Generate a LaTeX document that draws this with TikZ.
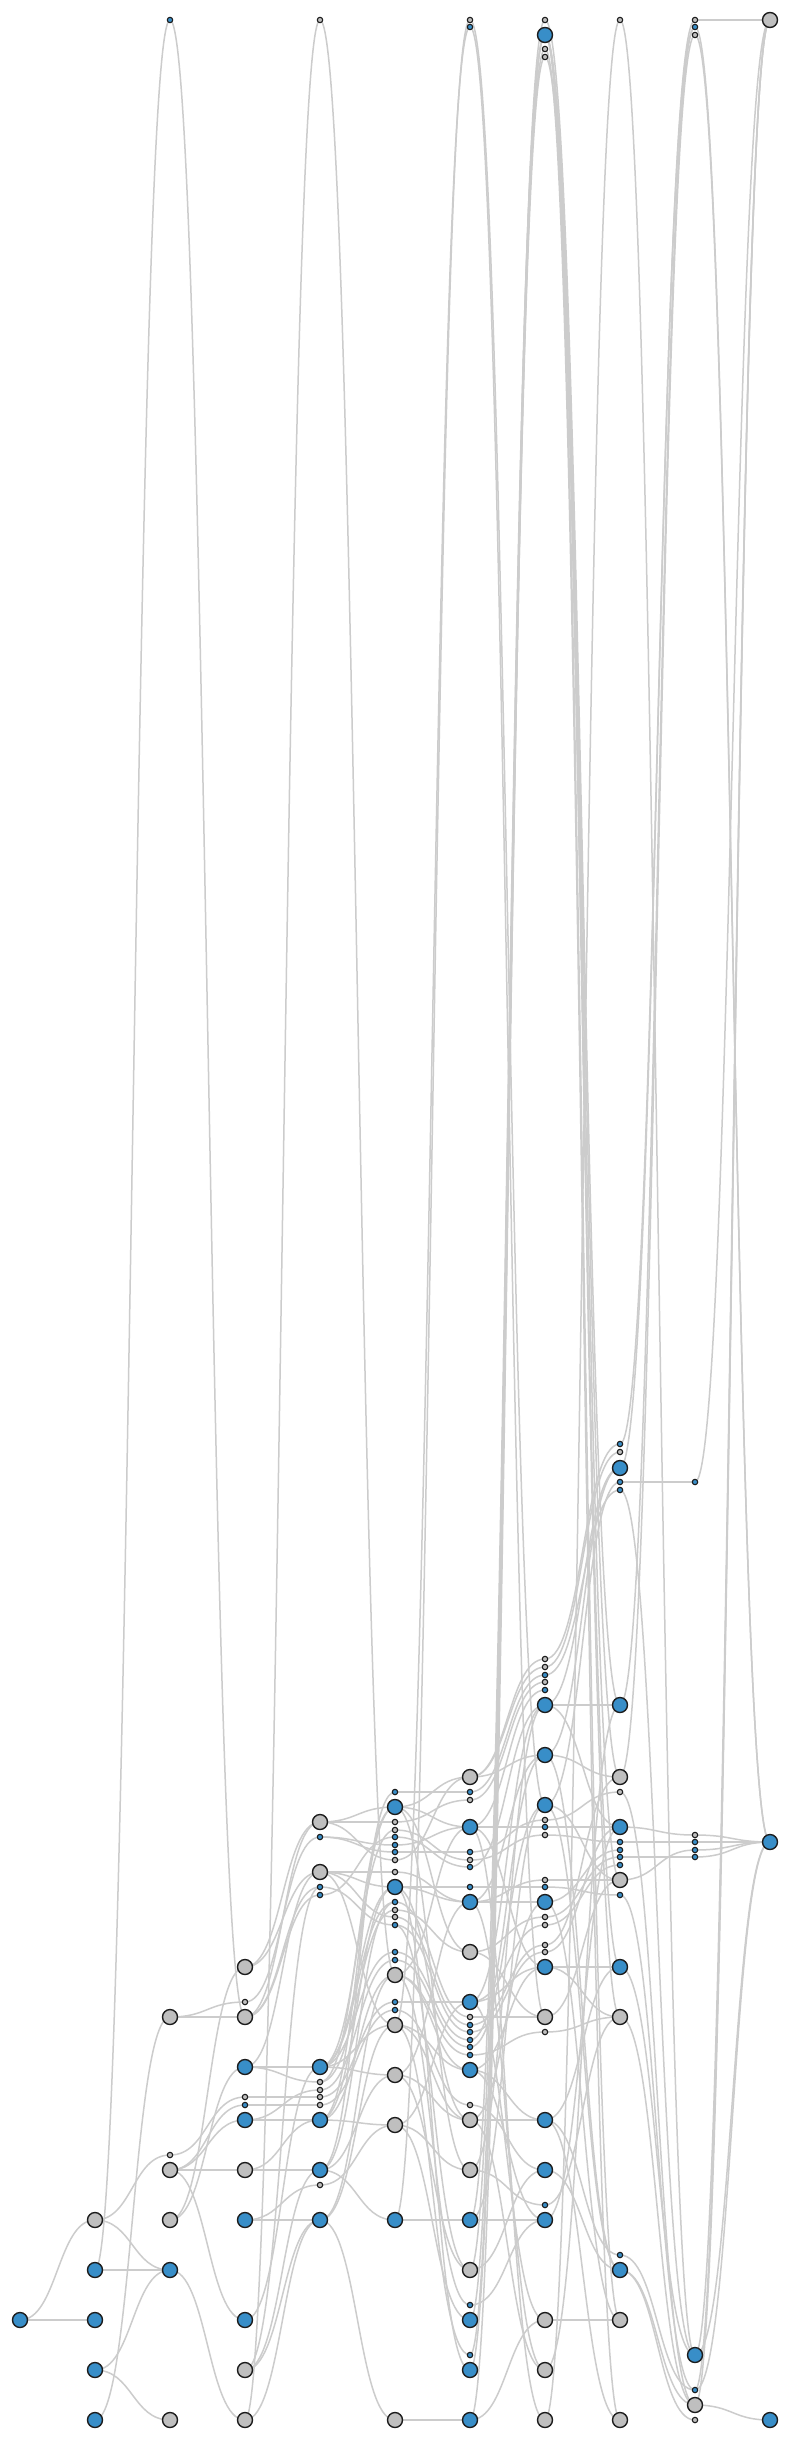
\documentclass[tikz,border=0pt]{standalone}
\usetikzlibrary{calc}
\pgfdeclarelayer{background}
\pgfsetlayers{background,main}
\definecolor{nblue}{RGB}{56,142,200}
\definecolor{ngray}{RGB}{191,191,191}
\definecolor{ink}{RGB}{28,28,28}
\definecolor{ecol}{RGB}{204,204,204}
\tikzset{
  nodebase/.style={circle,draw=ink,inner sep=0pt,outer sep=0pt},
  bl/.style={nodebase,fill=nblue,line width=1.4pt,minimum size=15pt},
  gl/.style={nodebase,fill=ngray,line width=1.4pt,minimum size=15pt},
  bs/.style={nodebase,fill=nblue,line width=1.1pt,minimum size=5.4pt},
  gs/.style={nodebase,fill=ngray,line width=1.1pt,minimum size=5.4pt},
  edge/.style={draw=ecol,line width=1.5pt}
}
\newcommand\grnode[3]{\node[#3] (c#1y#2) at ({20+75*#1},#2) {};}
\newcommand\gredge[2]{\draw[edge] let \p1=(#1.center), \p2=(#2.center) in (\p1) .. controls ({0.5*\x1+0.5*\x2},\y1) and ({0.5*\x1+0.5*\x2},\y2) .. (\p2);}
\begin{document}
\begin{tikzpicture}[x=1pt,y=-1pt]
\useasboundingbox (0,0) rectangle (790,2440);
% column 0
\grnode{0}{2320}{bl}
% column 1
\grnode{1}{2220}{gl}\grnode{1}{2270}{bl}\grnode{1}{2320}{bl}\grnode{1}{2370}{bl}\grnode{1}{2420}{bl}
% column 2
\grnode{2}{20}{bs}\grnode{2}{2017}{gl}\grnode{2}{2155}{gs}\grnode{2}{2170}{gl}\grnode{2}{2220}{gl}\grnode{2}{2270}{bl}\grnode{2}{2420}{gl}
% column 3
\grnode{3}{1967}{gl}\grnode{3}{2002}{gs}\grnode{3}{2017}{gl}\grnode{3}{2067}{bl}\grnode{3}{2097}{gs}\grnode{3}{2105}{bs}
\grnode{3}{2120}{bl}\grnode{3}{2170}{gl}\grnode{3}{2220}{bl}\grnode{3}{2320}{bl}\grnode{3}{2370}{gl}\grnode{3}{2420}{gl}
% column 4
\grnode{4}{20}{gs}\grnode{4}{1822}{gl}\grnode{4}{1837}{bs}\grnode{4}{1872}{gl}\grnode{4}{1887}{bs}\grnode{4}{1895}{bs}
\grnode{4}{2067}{bl}\grnode{4}{2082}{gs}\grnode{4}{2090}{gs}\grnode{4}{2097}{gs}\grnode{4}{2105}{gs}
\grnode{4}{2120}{bl}\grnode{4}{2170}{bl}\grnode{4}{2185}{gs}\grnode{4}{2220}{bl}
% column 5
\grnode{5}{1792}{bs}\grnode{5}{1807}{bl}\grnode{5}{1822}{gs}\grnode{5}{1830}{gs}\grnode{5}{1837}{bs}\grnode{5}{1845}{bs}
\grnode{5}{1852}{bs}\grnode{5}{1860}{gs}\grnode{5}{1872}{gs}\grnode{5}{1887}{bl}\grnode{5}{1902}{bs}\grnode{5}{1910}{gs}
\grnode{5}{1917}{gs}\grnode{5}{1925}{bs}\grnode{5}{1952}{bs}\grnode{5}{1960}{bs}\grnode{5}{1975}{gl}\grnode{5}{2002}{bs}
\grnode{5}{2010}{bs}\grnode{5}{2025}{gl}\grnode{5}{2075}{gl}\grnode{5}{2125}{gl}\grnode{5}{2220}{bl}\grnode{5}{2420}{gl}
% column 6
\grnode{6}{20}{gs}\grnode{6}{27}{bs}\grnode{6}{1777}{gl}\grnode{6}{1792}{bs}\grnode{6}{1800}{gs}\grnode{6}{1827}{bl}
\grnode{6}{1852}{bs}\grnode{6}{1860}{gs}\grnode{6}{1867}{bs}\grnode{6}{1887}{bs}\grnode{6}{1902}{bl}\grnode{6}{1952}{gl}
\grnode{6}{2002}{bl}\grnode{6}{2017}{gs}\grnode{6}{2025}{bs}\grnode{6}{2032}{bs}\grnode{6}{2040}{bs}\grnode{6}{2047}{bs}
\grnode{6}{2055}{bs}\grnode{6}{2070}{bl}\grnode{6}{2105}{gs}\grnode{6}{2120}{gl}\grnode{6}{2170}{gl}\grnode{6}{2220}{bl}
\grnode{6}{2270}{gl}\grnode{6}{2305}{bs}\grnode{6}{2320}{bl}\grnode{6}{2355}{bs}\grnode{6}{2370}{bl}\grnode{6}{2420}{bl}
% column 7
\grnode{7}{20}{gs}\grnode{7}{35}{bl}\grnode{7}{49}{gs}\grnode{7}{57}{gs}
\grnode{7}{1659}{gs}\grnode{7}{1667}{gs}\grnode{7}{1675}{bs}\grnode{7}{1682}{gs}\grnode{7}{1690}{bs}\grnode{7}{1705}{bl}
\grnode{7}{1755}{bl}\grnode{7}{1805}{bl}\grnode{7}{1820}{gs}\grnode{7}{1827}{bs}\grnode{7}{1835}{gs}\grnode{7}{1880}{gs}
\grnode{7}{1887}{bs}\grnode{7}{1902}{bl}\grnode{7}{1917}{gs}\grnode{7}{1925}{gs}\grnode{7}{1945}{gs}\grnode{7}{1952}{gs}
\grnode{7}{1967}{bl}\grnode{7}{2017}{gl}\grnode{7}{2032}{gs}\grnode{7}{2120}{bl}\grnode{7}{2170}{bl}\grnode{7}{2205}{bs}
\grnode{7}{2220}{bl}\grnode{7}{2320}{gl}\grnode{7}{2370}{gl}\grnode{7}{2420}{gl}
% column 8
\grnode{8}{20}{gs}\grnode{8}{1444}{bs}\grnode{8}{1452}{gs}\grnode{8}{1468}{bl}\grnode{8}{1482}{bs}\grnode{8}{1490}{bs}
\grnode{8}{1705}{bl}\grnode{8}{1777}{gl}\grnode{8}{1792}{gs}\grnode{8}{1827}{bl}\grnode{8}{1842}{bs}\grnode{8}{1850}{bs}
\grnode{8}{1857}{bs}\grnode{8}{1865}{bs}\grnode{8}{1880}{gl}\grnode{8}{1895}{bs}\grnode{8}{1967}{bl}\grnode{8}{2017}{gl}
\grnode{8}{2255}{bs}\grnode{8}{2270}{bl}\grnode{8}{2320}{gl}\grnode{8}{2420}{gl}
% column 9
\grnode{9}{20}{gs}\grnode{9}{27}{bs}\grnode{9}{35}{gs}\grnode{9}{1482}{bs}\grnode{9}{1835}{gs}\grnode{9}{1842}{bs}
\grnode{9}{1850}{bs}\grnode{9}{1857}{bs}\grnode{9}{2355}{bl}\grnode{9}{2390}{bs}\grnode{9}{2405}{gl}\grnode{9}{2420}{gs}
% column 10
\grnode{10}{20}{gl}\grnode{10}{1842}{bl}\grnode{10}{2420}{bl}

\begin{pgfonlayer}{background}
\fill[white] (0,0) rectangle (790,2440);
% c0-c1
\gredge{c0y2320}{c1y2220}\gredge{c0y2320}{c1y2320}
% c1-c2
\gredge{c1y2220}{c2y2155}\gredge{c1y2220}{c2y2270}\gredge{c1y2270}{c2y20}\gredge{c1y2270}{c2y2270}
\gredge{c1y2370}{c2y2270}\gredge{c1y2370}{c2y2420}\gredge{c1y2420}{c2y2017}
% c2-c3
\gredge{c2y20}{c3y2017}\gredge{c2y2017}{c3y2017}\gredge{c2y2017}{c3y2002}\gredge{c2y2155}{c3y2097}
\gredge{c2y2170}{c3y2170}\gredge{c2y2170}{c3y2105}\gredge{c2y2170}{c3y2120}\gredge{c2y2170}{c3y2320}
\gredge{c2y2220}{c3y1967}\gredge{c2y2220}{c3y2067}\gredge{c2y2270}{c3y2420}
% c3-c4
\gredge{c3y1967}{c4y1822}\gredge{c3y1967}{c4y1872}\gredge{c3y2002}{c4y1837}\gredge{c3y2017}{c4y1822}
\gredge{c3y2017}{c4y1887}\gredge{c3y2017}{c4y1895}\gredge{c3y2067}{c4y2067}\gredge{c3y2067}{c4y2082}
\gredge{c3y2067}{c4y1872}\gredge{c3y2097}{c4y2097}\gredge{c3y2105}{c4y2105}\gredge{c3y2120}{c4y2120}
\gredge{c3y2120}{c4y2090}\gredge{c3y2170}{c4y2170}\gredge{c3y2170}{c4y2120}\gredge{c3y2220}{c4y2185}
\gredge{c3y2220}{c4y2220}\gredge{c3y2320}{c4y2067}\gredge{c3y2370}{c4y2170}\gredge{c3y2370}{c4y2220}
\gredge{c3y2370}{c4y1887}\gredge{c3y2420}{c4y20}\gredge{c3y2420}{c4y2220}
% c4-c5
\gredge{c4y20}{c5y1975}\gredge{c4y1822}{c5y1822}\gredge{c4y1822}{c5y1807}\gredge{c4y1822}{c5y1860}
\gredge{c4y1837}{c5y1852}\gredge{c4y1837}{c5y1845}\gredge{c4y1872}{c5y1872}\gredge{c4y1872}{c5y1887}
\gredge{c4y1872}{c5y1917}\gredge{c4y1887}{c5y1925}\gredge{c4y1895}{c5y1837}\gredge{c4y2067}{c5y1887}
\gredge{c4y2067}{c5y1902}\gredge{c4y2067}{c5y2025}\gredge{c4y2067}{c5y1952}\gredge{c4y2067}{c5y1830}
\gredge{c4y2082}{c5y1910}\gredge{c4y2090}{c5y1960}\gredge{c4y2097}{c5y2002}\gredge{c4y2105}{c5y2010}
\gredge{c4y2120}{c5y2125}\gredge{c4y2120}{c5y1975}\gredge{c4y2120}{c5y1807}\gredge{c4y2170}{c5y2075}
\gredge{c4y2170}{c5y1792}\gredge{c4y2170}{c5y2220}\gredge{c4y2185}{c5y2125}\gredge{c4y2220}{c5y2025}
\gredge{c4y2220}{c5y2420}
\gredge{c4y2120}{c5y1887}\gredge{c4y2170}{c5y1902}\gredge{c4y2067}{c5y2075}\gredge{c4y2220}{c5y1975}
\gredge{c4y2082}{c5y1807}\gredge{c4y1872}{c5y2025}
% c5-c6
\gredge{c5y1792}{c6y1792}\gredge{c5y1807}{c6y1777}\gredge{c5y1807}{c6y1827}\gredge{c5y1822}{c6y1800}
\gredge{c5y1830}{c6y1860}\gredge{c5y1837}{c6y1867}\gredge{c5y1845}{c6y1827}\gredge{c5y1852}{c6y1852}
\gredge{c5y1860}{c6y1777}\gredge{c5y1872}{c6y1902}\gredge{c5y1887}{c6y1887}\gredge{c5y1887}{c6y1902}
\gredge{c5y1887}{c6y2370}\gredge{c5y1902}{c6y2017}\gredge{c5y1910}{c6y1952}\gredge{c5y1917}{c6y2025}
\gredge{c5y1925}{c6y2032}\gredge{c5y1925}{c6y2270}\gredge{c5y1952}{c6y2040}\gredge{c5y1960}{c6y2047}
\gredge{c5y1975}{c6y2055}\gredge{c5y1975}{c6y2070}\gredge{c5y1975}{c6y2305}\gredge{c5y2002}{c6y2002}
\gredge{c5y2010}{c6y2105}\gredge{c5y2025}{c6y2070}\gredge{c5y2025}{c6y2120}\gredge{c5y2025}{c6y2355}
\gredge{c5y2025}{c6y27}\gredge{c5y2075}{c6y2120}\gredge{c5y2075}{c6y2270}\gredge{c5y2125}{c6y2170}
\gredge{c5y2125}{c6y2320}\gredge{c5y2220}{c6y2220}\gredge{c5y2220}{c6y20}\gredge{c5y2420}{c6y2420}
\gredge{c5y1807}{c6y2170}\gredge{c5y1887}{c6y2120}\gredge{c5y1975}{c6y1827}\gredge{c5y2075}{c6y1902}
\gredge{c5y2125}{c6y2002}\gredge{c5y1807}{c6y1952}
% c6-c7
\gredge{c6y20}{c7y1805}\gredge{c6y27}{c7y2017}\gredge{c6y1777}{c7y1659}\gredge{c6y1777}{c7y1667}
\gredge{c6y1777}{c7y1755}\gredge{c6y1792}{c7y1675}\gredge{c6y1800}{c7y1682}\gredge{c6y1827}{c7y1827}
\gredge{c6y1827}{c7y1690}\gredge{c6y1827}{c7y2420}\gredge{c6y1852}{c7y1820}\gredge{c6y1860}{c7y1835}
\gredge{c6y1867}{c7y1705}\gredge{c6y1887}{c7y1887}\gredge{c6y1902}{c7y1880}\gredge{c6y1902}{c7y1902}
\gredge{c6y1902}{c7y2370}\gredge{c6y1952}{c7y1917}\gredge{c6y1952}{c7y2017}\gredge{c6y2002}{c7y1967}
\gredge{c6y2002}{c7y1925}\gredge{c6y2002}{c7y2320}\gredge{c6y2017}{c7y2017}\gredge{c6y2025}{c7y1945}
\gredge{c6y2032}{c7y1952}\gredge{c6y2040}{c7y1755}\gredge{c6y2047}{c7y1805}\gredge{c6y2055}{c7y2032}
\gredge{c6y2070}{c7y1967}\gredge{c6y2070}{c7y2120}\gredge{c6y2105}{c7y2170}\gredge{c6y2120}{c7y2120}
\gredge{c6y2120}{c7y1902}\gredge{c6y2170}{c7y2205}\gredge{c6y2170}{c7y1705}\gredge{c6y2220}{c7y2220}
\gredge{c6y2220}{c7y35}\gredge{c6y2270}{c7y2170}\gredge{c6y2270}{c7y35}\gredge{c6y2305}{c7y2220}
\gredge{c6y2320}{c7y49}\gredge{c6y2355}{c7y57}\gredge{c6y2370}{c7y20}\gredge{c6y2420}{c7y2320}
\gredge{c6y2420}{c7y35}
\gredge{c6y1827}{c7y1967}\gredge{c6y1902}{c7y1755}\gredge{c6y2070}{c7y2220}\gredge{c6y2120}{c7y2370}
\gredge{c6y2002}{c7y1705}\gredge{c6y2220}{c7y1805}
% c7-c8
\gredge{c7y20}{c8y1705}\gredge{c7y35}{c8y1777}\gredge{c7y35}{c8y2017}\gredge{c7y35}{c8y2320}
\gredge{c7y35}{c8y1880}\gredge{c7y49}{c8y2420}\gredge{c7y57}{c8y1967}\gredge{c7y1659}{c8y1444}
\gredge{c7y1667}{c8y1452}\gredge{c7y1675}{c8y1490}\gredge{c7y1705}{c8y1468}\gredge{c7y1705}{c8y1705}
\gredge{c7y1755}{c8y1468}\gredge{c7y1755}{c8y1777}\gredge{c7y1805}{c8y1482}\gredge{c7y1805}{c8y2270}
\gredge{c7y1820}{c8y1792}\gredge{c7y1827}{c8y1827}\gredge{c7y1835}{c8y1842}\gredge{c7y1880}{c8y1880}
\gredge{c7y1887}{c8y1895}\gredge{c7y1902}{c8y1850}\gredge{c7y1902}{c8y2320}\gredge{c7y1917}{c8y1857}
\gredge{c7y1925}{c8y1865}\gredge{c7y1945}{c8y1777}\gredge{c7y1952}{c8y1827}\gredge{c7y1967}{c8y1967}
\gredge{c7y2017}{c8y1880}\gredge{c7y2032}{c8y2017}\gredge{c7y2120}{c8y2255}\gredge{c7y2120}{c8y2420}
\gredge{c7y2170}{c8y2270}\gredge{c7y2205}{c8y2017}\gredge{c7y2220}{c8y1827}\gredge{c7y2320}{c8y2320}
\gredge{c7y2370}{c8y1705}\gredge{c7y2420}{c8y20}
\gredge{c7y1705}{c8y1827}\gredge{c7y1805}{c8y1880}\gredge{c7y1967}{c8y2017}\gredge{c7y2120}{c8y1967}
\gredge{c7y1755}{c8y2270}
% c8-c9
\gredge{c8y20}{c9y2355}\gredge{c8y1444}{c9y27}\gredge{c8y1468}{c9y20}\gredge{c8y1482}{c9y1482}
\gredge{c8y1490}{c9y2355}\gredge{c8y1705}{c9y27}\gredge{c8y1777}{c9y35}\gredge{c8y1792}{c9y2405}
\gredge{c8y1827}{c9y1835}\gredge{c8y1842}{c9y1842}\gredge{c8y1857}{c9y1857}\gredge{c8y1880}{c9y1850}
\gredge{c8y1895}{c9y2390}\gredge{c8y1967}{c9y2355}\gredge{c8y2017}{c9y2405}\gredge{c8y2255}{c9y2390}
\gredge{c8y2270}{c9y2405}\gredge{c8y2270}{c9y2420}
% c9-c10
\gredge{c9y20}{c10y20}\gredge{c9y27}{c10y1842}\gredge{c9y35}{c10y1842}\gredge{c9y1482}{c10y20}
\gredge{c9y1835}{c10y1842}\gredge{c9y1842}{c10y1842}\gredge{c9y1850}{c10y1842}\gredge{c9y1857}{c10y1842}
\gredge{c9y2355}{c10y20}\gredge{c9y2355}{c10y1842}\gredge{c9y2390}{c10y20}\gredge{c9y2390}{c10y1842}
\gredge{c9y2405}{c10y20}\gredge{c9y2405}{c10y2420}
\end{pgfonlayer}
\end{tikzpicture}
\end{document}
